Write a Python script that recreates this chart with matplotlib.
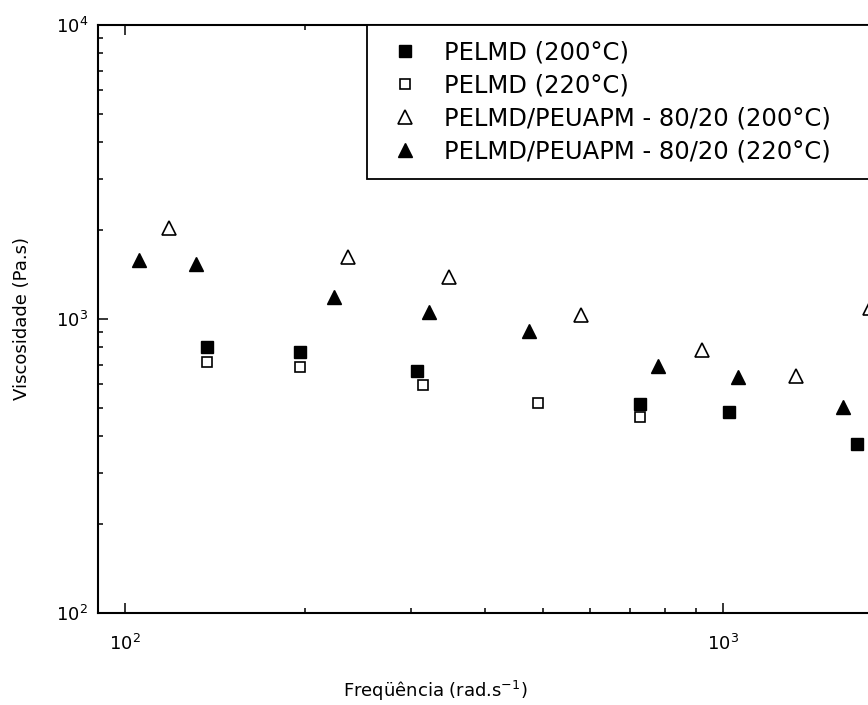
import numpy as np
import matplotlib
matplotlib.use("Agg")
import matplotlib.pyplot as plt

plt.rcParams['font.family'] = ['DejaVu Sans']

# PELMD 200 C (filled squares)
freq_pelmd_200 = [137.1, 196.2, 307.8, 726.4, 1023, 1675]
visc_pelmd_200 = [803, 772, 666, 514, 483, 376]

# PELMD 220 C (open squares)
freq_pelmd_220 = [137.1, 196.2, 315, 490.4, 726.4]
visc_pelmd_220 = [714, 687, 597, 518, 464]

# PELMD/PEUAPM 80/20 200 C (open triangles)
freq_blend_200 = [118.5, 236, 348.3, 578.8, 922.5, 1325, 1762]
visc_blend_200 = [2039, 1625, 1390, 1032, 785, 640, 1090]

# PELMD/PEUAPM 80/20 220 C (filled triangles)
freq_blend_220 = [105.5, 131.4, 223.6, 322.4, 473.8, 778.6, 1060, 1587]
visc_blend_220 = [1588, 1539, 1188, 1056, 910, 692, 635, 502]

labels = ["PELMD (200°C)", "PELMD (220°C)",
          "PELMD/PEUAPM - 80/20 (200°C)", "PELMD/PEUAPM - 80/20 (220°C)"]

fig = plt.figure(figsize=(8.68, 7.05), dpi=100)
# axes run past the right edge of the picture, as in the original
ax = fig.add_axes([98/868, 92/705, 805/868, 588/705])

ax.plot(freq_pelmd_200, visc_pelmd_200, 's', ms=8, mfc='black', mec='black',
        label=labels[0])
ax.plot(freq_pelmd_220, visc_pelmd_220, 's', ms=6.5, mfc='white', mec='black',
        mew=1.2, label=labels[1])
ax.plot(freq_blend_200, visc_blend_200, '^', ms=10.5, mfc='white', mec='black',
        mew=1.2, label=labels[2])
ax.plot(freq_blend_220, visc_blend_220, '^', ms=10.5, mfc='black', mec='black',
        label=labels[3])

ax.set_xscale('log')
ax.set_yscale('log')
ax.set_xlim(90, 2000)
ax.set_ylim(100, 10000)

for s in ax.spines.values():
    s.set_linewidth(1.5)
ax.tick_params(which='both', direction='in', top=True, right=True, width=1.1)
ax.tick_params(which='major', length=7, labelsize=13)
ax.tick_params(axis='y', which='major', pad=7)
ax.tick_params(axis='x', which='major', pad=15)
ax.tick_params(which='minor', length=3.5)

ax.set_xlabel("Freqüência (rad.s$^{-1}$)", fontsize=13)
ax.set_ylabel("Viscosidade (Pa.s)", fontsize=13)
ax.xaxis.set_label_coords(0.419, -0.112)
ax.yaxis.set_label_coords(-0.083, 0.5)

leg = ax.legend(loc='upper left', bbox_to_anchor=(0.334, 0.0, 0.75, 1.0),
                mode='expand', borderaxespad=0, fontsize=17.5, numpoints=1,
                borderpad=0.65, handlelength=1.8, handletextpad=0.74,
                labelspacing=0.36, fancybox=False, framealpha=1)
leg.get_frame().set_edgecolor('black')
leg.get_frame().set_linewidth(1.3)

plt.savefig("out.png", dpi=100)
